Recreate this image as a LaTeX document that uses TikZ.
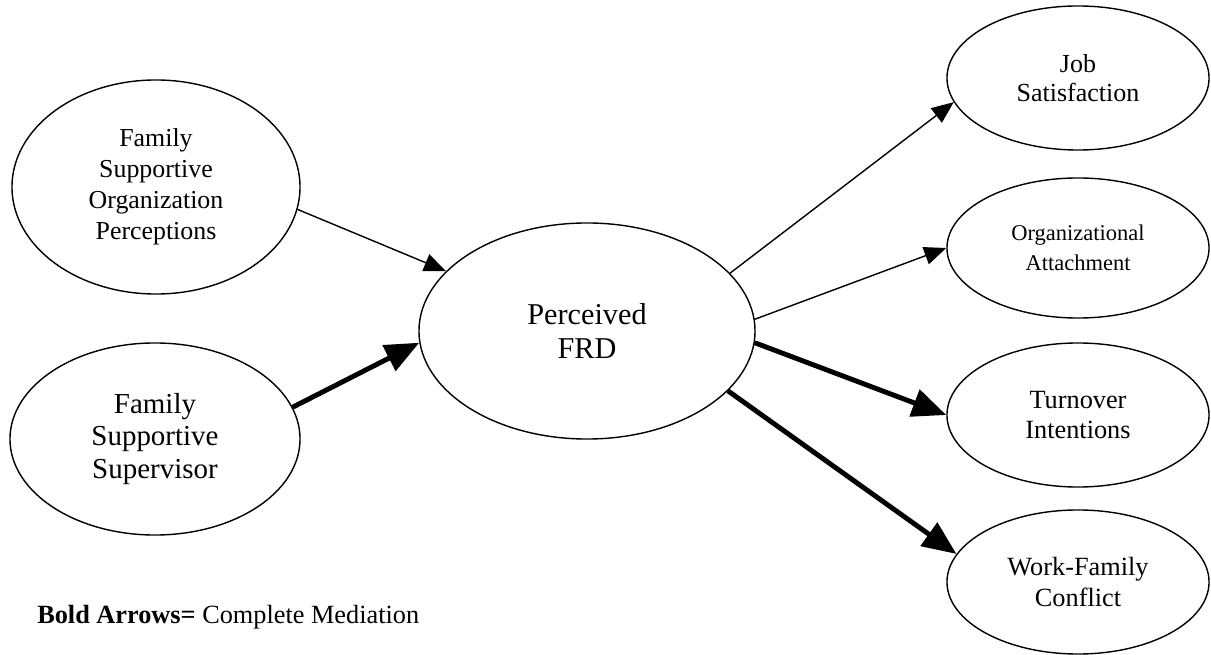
\documentclass[tikz,border=0pt]{standalone}
\usepackage{fontspec}
\setmainfont{Liberation Serif}
\usetikzlibrary{shapes.geometric,arrows.meta}

\begin{document}
\begin{tikzpicture}[x=0.025cm, y=-0.025cm,
    construct/.style={draw, ellipse, line width=1pt, inner sep=0pt, align=center},
    thinarrow/.style={line width=1pt, -{Triangle[length=0.55cm, width=0.45cm]}},
    boldarrow/.style={line width=3.5pt, -{Triangle[length=0.85cm, width=0.7cm]}}]

        % Page frame
        \useasboundingbox (0,0) rectangle (1211,655);

        % Antecedents
        \node[construct, minimum width=7.2cm, minimum height=5.35cm, font=\fontsize{18.4}{22}\selectfont] (fsop) at (156,187) {Family\\Supportive\\Organization\\Perceptions};
        \node[construct, minimum width=7.25cm, minimum height=4.8cm, font=\fontsize{20.6}{23.4}\selectfont] (fss) at (155,439) {Family\\Supportive\\Supervisor};

        % Mediator
        \node[construct, minimum width=8.4cm, minimum height=5.4cm, font=\fontsize{21.5}{24.8}\selectfont] (frd) at (587,331) {Perceived\\FRD};

        % Outcomes
        \node[construct, minimum width=6.55cm, minimum height=3.6cm, font=\fontsize{18.5}{20.5}\selectfont] (jobsat) at (1078,78) {Job\\Satisfaction};
        \node[construct, minimum width=6.55cm, minimum height=3.5cm, font=\fontsize{16}{21}\selectfont] (orgatt) at (1078,248) {Organizational\\Attachment};
        \node[construct, minimum width=6.55cm, minimum height=3.6cm, font=\fontsize{18.7}{21}\selectfont] (turnover) at (1078,415) {Turnover\\Intentions};
        \node[construct, minimum width=6.55cm, minimum height=3.6cm, font=\fontsize{18.7}{21.5}\selectfont] (wfconflict) at (1078,582) {Work-Family\\Conflict};

        % Paths into FRD
        \draw[thinarrow] (fsop.-9) -- (frd.157);
        \draw[boldarrow] (fss.13) -- (frd.184);

        % Paths out of FRD
        \draw[thinarrow] (frd.22) -- (jobsat.191);
        \draw[thinarrow] (frd.4) -- (orgatt.west);
        \draw[boldarrow] (frd.-4) -- (turnover.west);
        \draw[boldarrow] (frd.-23) -- (wfconflict.167);

        % Legend
        \node[anchor=base west, inner sep=0pt, font=\fontsize{18.7}{22}\selectfont] (legend) at (37,623) {\textbf{Bold Arrows=} Complete Mediation};
\end{tikzpicture}
\end{document}
